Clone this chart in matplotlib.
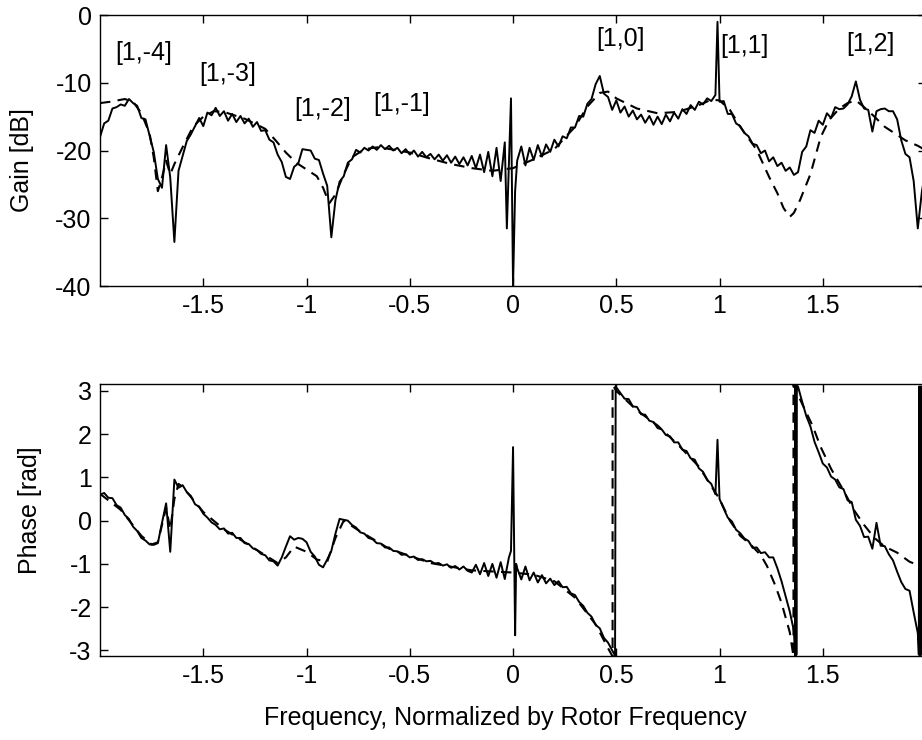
import numpy as np
import matplotlib
matplotlib.use('Agg')
import matplotlib.pyplot as plt

plt.rcParams['font.family'] = ['Liberation Sans', 'DejaVu Sans']
plt.rcParams['font.size'] = 18

# measured response, sampled every 0.02 of rotor frequency from -2 to 2
freq = np.round(np.linspace(-2.0, 2.0, 201), 3)

gain_meas = [
    -18.0, -16.0, -15.6, -13.8, -13.6, -13.2, -13.4, -12.4, -13.0, -13.4,   # -2.00
    -15.2, -15.4, -17.8, -20.2, -24.2, -25.5, -19.2, -24.0, -33.5, -23.0,   # -1.80
    -20.8, -18.6, -17.6, -16.4, -15.2, -16.4, -14.4, -14.8, -13.7, -14.9,   # -1.60
    -14.2, -15.6, -14.6, -15.8, -14.9, -16.0, -15.3, -16.5, -15.8, -17.1,   # -1.40
    -17.0, -18.4, -18.8, -20.6, -21.7, -23.9, -24.2, -22.4, -21.9, -19.8,   # -1.20
    -19.9, -20.0, -21.2, -21.4, -23.4, -25.2, -32.8, -27.3, -24.6, -23.8,   # -1.00
    -21.8, -21.3, -19.9, -20.3, -19.6, -20.0, -19.4, -19.9, -19.2, -19.8,   # -0.80
    -19.3, -20.0, -19.6, -20.4, -19.8, -20.6, -20.0, -20.9, -20.2, -21.0,   # -0.60
    -20.5, -21.3, -20.6, -21.5, -20.7, -21.8, -20.9, -22.0, -21.0, -22.2,   # -0.40
    -20.8, -22.6, -20.6, -23.2, -20.2, -23.8, -19.6, -24.5, -18.8, -22.0,   # -0.20
    -40.0, -21.5, -19.4, -22.2, -19.6, -21.4, -19.2, -20.9, -19.1, -20.2,   # 0.00
    -18.4, -19.4, -17.9, -18.2, -16.6, -16.6, -14.9, -15.0, -13.1, -12.4,   # 0.20
    -10.2, -9.0, -11.6, -12.1, -14.0, -12.6, -14.4, -13.5, -15.0, -14.1,    # 0.40
    -15.4, -14.7, -15.9, -14.9, -16.2, -15.0, -16.1, -14.7, -15.7, -14.4,   # 0.60
    -15.3, -13.9, -14.6, -13.3, -14.0, -12.8, -13.2, -12.3, -12.7, -11.8,   # 0.80
    -12.8, -12.7, -14.6, -14.6, -16.0, -16.4, -17.4, -17.9, -19.0, -19.2,   # 1.00
    -20.4, -20.0, -21.6, -21.0, -22.3, -21.8, -23.0, -22.5, -23.6, -23.2,   # 1.20
    -20.2, -19.4, -17.0, -17.4, -15.6, -16.2, -14.5, -15.2, -13.6, -13.9,   # 1.40
    -13.8, -13.2, -12.0, -9.8, -12.5, -13.8, -14.0, -17.2, -14.2, -13.9,    # 1.60
    -13.8, -14.2, -14.2, -15.4, -18.5, -20.5, -21.0, -24.5, -31.5, -26.0,   # 1.80
    -22.5,
]

phase_meas = [
    0.60, 0.64, 0.53, 0.52, 0.36, 0.30, 0.13, 0.04, -0.14, -0.24,           # -2.00
    -0.40, -0.46, -0.55, -0.56, -0.52, -0.05, 0.40, -0.72, 0.95, 0.76,      # -1.80
    0.82, 0.66, 0.57, 0.38, 0.32, 0.16, 0.07, -0.04, -0.10, -0.20,          # -1.60
    -0.18, -0.30, -0.28, -0.40, -0.40, -0.52, -0.54, -0.64, -0.68, -0.77,   # -1.40
    -0.80, -0.92, -0.94, -1.04, -0.85, -0.60, -0.36, -0.44, -0.40, -0.42,   # -1.20
    -0.50, -0.72, -0.83, -1.02, -1.08, -0.90, -0.70, -0.30, 0.04, 0.02,     # -1.00
    0.00, -0.10, -0.16, -0.27, -0.30, -0.40, -0.43, -0.52, -0.53, -0.62,    # -0.80
    -0.62, -0.70, -0.71, -0.79, -0.78, -0.85, -0.83, -0.91, -0.89, -0.94,   # -0.60
    -0.93, -0.99, -0.98, -1.04, -1.01, -1.09, -1.05, -1.13, -1.06, -1.16,   # -0.40
    -1.20, -1.02, -1.24, -0.98, -1.28, -1.00, -1.32, -0.96, -1.35, -0.85,   # -0.20
    1.70, -1.10, -1.36, -1.06, -1.38, -1.20, -1.43, -1.26, -1.45, -1.34,    # 0.00
    -1.49, -1.40, -1.54, -1.53, -1.68, -1.72, -1.88, -1.97, -2.13, -2.22,   # 0.20
    -2.41, -2.49, -2.71, -2.82, -3.00, 3.08, 2.95, 2.82, 2.81, 2.64,        # 0.40
    2.63, 2.46, 2.45, 2.31, 2.28, 2.14, 2.11, 1.98, 1.95, 1.81,             # 0.60
    1.81, 1.64, 1.61, 1.44, 1.41, 1.21, 1.13, 0.94, 0.85, 0.61,             # 0.80
    0.50, 0.28, 0.07, -0.02, -0.21, -0.29, -0.41, -0.47, -0.63, -0.62,      # 1.00
    -0.75, -0.73, -0.85, -0.85, -1.10, -1.40, -1.75, -2.10, -2.55, 3.10,    # 1.20
    2.75, 2.42, 2.18, 1.82, 1.58, 1.32, 1.23, 1.02, 0.95, 0.77,             # 1.40
    0.73, 0.47, 0.43, 0.02, -0.12, -0.38, -0.37, -0.65, -0.05, -0.58,       # 1.60
    -0.59, -0.78, -0.92, -1.18, -1.42, -1.58, -1.62, -2.12, -2.60, 3.10,    # 1.80
    3.10,
]

# spikes and phase-wrap chatter between the regular samples
gain_extra_f = [-0.03, -0.01, 0.01, 0.99]
gain_extra = [-31.5, -12.3, -26.0, -1.0]

phase_extra_f = [-0.01, 0.01, 0.015, 0.494, 0.497, 0.99,
                 1.364, 1.366, 1.367, 1.368, 1.369, 1.370, 1.371, 1.372, 1.373,
                 1.965, 1.967, 1.969, 1.971, 1.973, 1.975, 1.977]
phase_extra = [-0.70, -2.65, -1.00, -3.12, 3.12, 1.87,
               -2.90, -3.12, 3.10, -3.10, 3.10, -3.10, 3.10, -3.10, 3.12,
               -3.10, 3.10, -3.10, 3.10, -3.10, 3.10, -3.10]

# fitted model
model_gain_f = [-2.0, -1.95, -1.88, -1.84, -1.8, -1.76, -1.74, -1.72, -1.70, -1.68,
                -1.66, -1.64, -1.6, -1.55, -1.5, -1.45, -1.4, -1.3, -1.2, -1.15,
                -1.1, -1.05, -1.0, -0.95, -0.92, -0.89, -0.86, -0.82, -0.78, -0.72,
                -0.65, -0.5, -0.4, -0.3, -0.2, -0.1, 0.0, 0.1, 0.2, 0.3,
                0.36, 0.42, 0.46, 0.5, 0.6, 0.7, 0.8, 0.9, 0.96, 1.0,
                1.05, 1.1, 1.18, 1.24, 1.28, 1.31, 1.34, 1.36, 1.39, 1.44,
                1.49, 1.53, 1.58, 1.62, 1.66, 1.7, 1.75, 1.8, 1.85, 1.9,
                1.96, 2.0]
model_gain = [-13.0, -12.8, -12.4, -12.8, -14.5, -17.5, -21.0, -26.0, -24.0, -21.5,
              -23.5, -22.0, -19.5, -16.5, -15.0, -14.2, -14.3, -15.3, -16.8, -18.5,
              -20.3, -21.8, -22.8, -23.8, -25.5, -27.8, -26.5, -23.5, -21.0, -19.8,
              -19.5, -20.3, -21.2, -22.0, -22.6, -23.0, -22.6, -21.3, -19.8, -16.5,
              -13.5, -11.5, -11.3, -12.3, -13.8, -14.5, -14.3, -13.3, -12.5, -12.6,
              -14.0, -16.5, -19.9, -23.9, -26.3, -28.5, -29.8, -29.2, -27.3, -23.5,
              -18.0, -15.5, -13.8, -13.0, -12.6, -13.6, -15.0, -16.5, -17.5, -18.5,
              -19.3, -20.0]

model_phase_f = [-2.0, -1.9, -1.8, -1.75, -1.72, -1.70, -1.68, -1.66, -1.64, -1.62,
                 -1.6, -1.5, -1.4, -1.3, -1.2, -1.14, -1.1, -1.06, -1.0, -0.95,
                 -0.9, -0.86, -0.82, -0.75, -0.6, -0.4, -0.2, 0.0, 0.1, 0.2,
                 0.3, 0.4, 0.46, 0.482, 0.482, 0.5, 0.6, 0.7, 0.8, 0.9,
                 1.0, 1.05, 1.1, 1.15, 1.2, 1.23, 1.27, 1.3, 1.34, 1.358,
                 1.358, 1.40, 1.45, 1.49, 1.54, 1.6, 1.65, 1.7, 1.75, 1.8,
                 1.86, 1.92, 2.0]
model_phase = [0.62, 0.25, -0.35, -0.55, -0.5, -0.1, 0.3, -0.2, 0.5, 0.85,
               0.78, 0.2, -0.2, -0.5, -0.8, -0.98, -0.85, -0.6, -0.72, -0.9,
               -0.95, -0.4, 0.0, -0.22, -0.65, -0.98, -1.15, -1.2, -1.25, -1.4,
               -1.78, -2.4, -2.95, -3.14, 3.14, 3.0, 2.55, 2.2, 1.75, 1.25,
               0.5, 0.0, -0.35, -0.55, -0.8, -1.05, -1.5, -1.9, -2.58, -3.14,
               3.14, 2.7, 2.2, 1.7, 1.2, 0.7, 0.25, -0.1, -0.4, -0.6,
               -0.74, -0.95, -1.1]

# mode labels [n, m] and where they sit on the gain plot
mode_labels = ['[1,-4]', '[1,-3]', '[1,-2]', '[1,-1]', '[1,0]', '[1,1]', '[1,2]']
mode_x = [-1.79, -1.38, -0.92, -0.54, 0.52, 1.12, 1.73]
mode_y = [-5.6, -8.7, -13.9, -13.1, -3.5, -4.6, -4.3]


def merge(f, v, ef, ev):
    x = np.concatenate([f, ef])
    y = np.concatenate([v, ev])
    idx = np.argsort(x, kind='stable')
    return x[idx], y[idx]


gf, gv = merge(freq, gain_meas, gain_extra_f, gain_extra)
pf, pv = merge(freq, phase_meas, phase_extra_f, phase_extra)

fig = plt.figure(figsize=(9.22, 7.4), dpi=100)
ax1 = fig.add_axes([0.1085, 0.6135, 0.8959, 0.3662])
ax2 = fig.add_axes([0.1085, 0.1135, 0.8959, 0.3676])

ax1.plot(gf, gv, color='black', lw=1.4)
ax1.plot(model_gain_f, model_gain, color='black', lw=1.5, dashes=(5, 3.5))
for lab, x, y in zip(mode_labels, mode_x, mode_y):
    ax1.text(x, y, lab, ha='center', va='center', fontsize=18)
ax1.set_xlim(-2, 2)
ax1.set_ylim(-40, 0)
ax1.set_yticks([0, -10, -20, -30, -40])

ax2.plot(pf, pv, color='black', lw=1.4)
ax2.plot(model_phase_f, model_phase, color='black', lw=1.5, dashes=(5, 3.5))
ax2.set_xlim(-2, 2)
ax2.set_ylim(-3.13, 3.16)
ax2.set_yticks([3, 2, 1, 0, -1, -2, -3])

for ax in (ax1, ax2):
    ax.set_xticks([-1.5, -1, -0.5, 0, 0.5, 1, 1.5])
    ax.set_xticklabels(['-1.5', '-1', '-0.5', '0', '0.5', '1', '1.5'])
    ax.tick_params(direction='in', top=True, right=True, length=6, width=1,
                   labelsize=18, pad=6)
    for s in ax.spines.values():
        s.set_linewidth(1.0)

ax1.set_yticklabels(['0', '-10', '-20', '-30', '-40'])
ax2.set_yticklabels(['3', '2', '1', '0', '-1', '-2', '-3'])

fig.text(22 / 922, 1 - 160 / 740, 'Gain [dB]', rotation=90, ha='center', va='center', fontsize=18)
fig.text(30 / 922, 1 - 510 / 740, 'Phase [rad]', rotation=90, ha='center', va='center', fontsize=18)
fig.text(505 / 922, 1 - 718 / 740, 'Frequency, Normalized by Rotor Frequency',
         ha='center', va='center', fontsize=18)

fig.savefig('out.png', dpi=100)
